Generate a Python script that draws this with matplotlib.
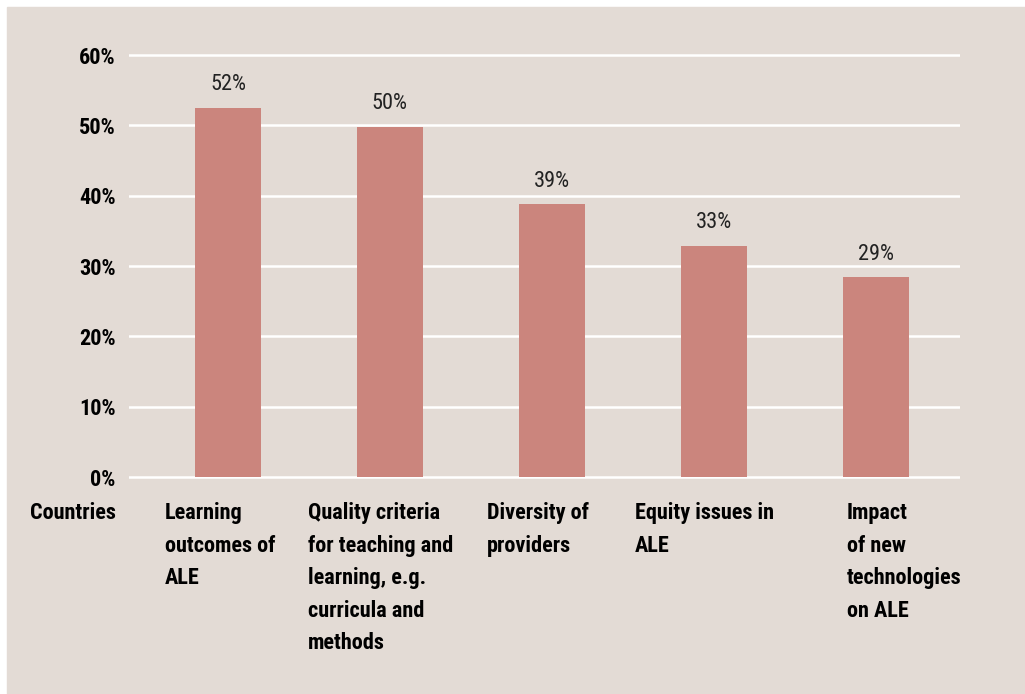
import matplotlib.pyplot as plt
from matplotlib import font_manager
from matplotlib.patches import Rectangle

# data
categories = ['Learning\noutcomes of\nALE',
              'Quality criteria\nfor teaching and\nlearning, e.g.\ncurricula and\nmethods',
              'Diversity of\nproviders',
              'Equity issues in\nALE',
              'Impact\nof new\ntechnologies\non ALE']
values = [52.5, 49.8, 38.8, 32.9, 28.4]
value_labels = ['52%', '50%', '39%', '33%', '29%']
yticks = [0, 10, 20, 30, 40, 50, 60]
row_header = 'Countries'

# left edge (px) of each category text column
label_x = [165, 308, 487, 635, 847]

W, H = 1025, 694
bg = '#e3dbd5'
bar_color = '#cb857d'

# the original uses a bold condensed face
installed = {f.name for f in font_manager.fontManager.ttflist}
if 'Roboto Condensed' in installed:
    plt.rcParams['font.family'] = ['Roboto Condensed', 'DejaVu Sans']
    fs = 16
else:
    plt.rcParams['font.family'] = ['DejaVu Sans']
    fs = 13

fig = plt.figure(figsize=(W / 100, H / 100), dpi=100)
fig.patch.set_facecolor('white')
fig.patches.append(Rectangle((7 / W, 0), 1 - 7 / W, 1 - 7 / H,
                             transform=fig.transFigure, color=bg, zorder=-5))

px10 = 70.33  # pixels per 10%
y0 = 477
ymin, ymax = -0.5, 61
bottom = H - (y0 + -ymin * px10 / 10)
height = (ymax - ymin) * px10 / 10
ax = fig.add_axes([129 / W, bottom / H, (960 - 129) / W, height / H])
ax.set_facecolor('none')

x = list(range(len(values)))
bars = ax.bar(x, values, width=0.41, color=bar_color, zorder=2)
for b, lab in zip(bars, value_labels):
    ax.annotate(lab, (b.get_x() + b.get_width() / 2, b.get_height()),
                xytext=(0, 9), textcoords='offset points',
                ha='center', va='bottom', fontsize=fs, color='#222222')

ax.set_xlim(-0.611, 4.52)
ax.set_ylim(ymin, ymax)
ax.set_yticks(yticks)
ax.set_yticklabels([f'{t}%' for t in yticks], fontsize=fs, fontweight='bold')
ax.set_xticks([])
ax.tick_params(axis='y', length=0, pad=9.5)
ax.grid(axis='y', color='white', linewidth=1.8, zorder=1)
ax.set_axisbelow(True)
for s in ax.spines.values():
    s.set_visible(False)

# category labels under the chart
top = 1 - 502 / H
fig.text(116 / W, top, row_header, ha='right', va='top',
         fontsize=fs, fontweight='bold', linespacing=1.62)
for lx, cat in zip(label_x, categories):
    fig.text(lx / W, top, cat, ha='left', va='top',
             fontsize=fs, fontweight='bold', linespacing=1.62)

fig.savefig('out.png', dpi=100, facecolor=fig.get_facecolor())
